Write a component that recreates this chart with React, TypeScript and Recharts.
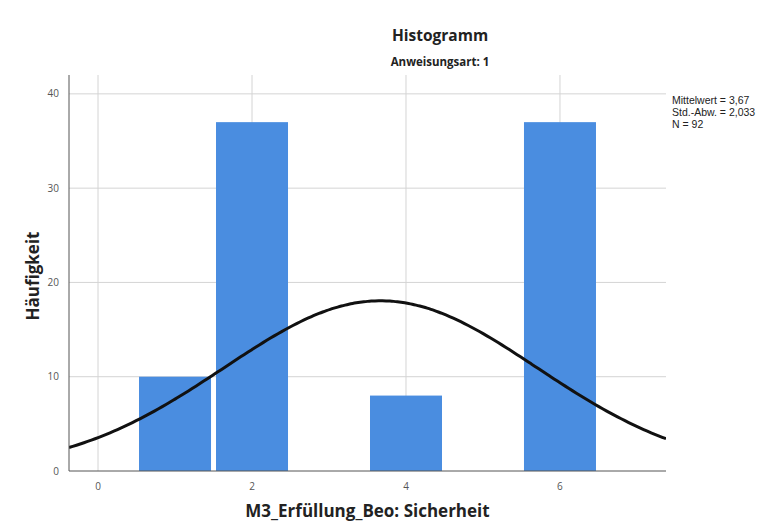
import React from 'react';
import { ComposedChart, Bar, Line, XAxis, YAxis, CartesianGrid } from 'recharts';

// Histogram bins (category value) and their frequencies
const binValues = [1, 2, 4, 6];
const binCounts = [10, 37, 8, 37];

// Summary statistics shown next to the plot
const mean = 3.67;
const stdDev = 2.033;
const n = 92;
const binWidth = 1;

const xTicks = [0, 2, 4, 6];
const yTicks = [0, 10, 20, 30, 40];
const xDomain: [number, number] = [-0.377, 7.377];
const yDomain: [number, number] = [0, 42];

// Fitted normal curve scaled to the histogram's frequencies
const normalFreq = (x: number) =>
  (n * binWidth) / (stdDev * Math.sqrt(2 * Math.PI)) *
  Math.exp(-0.5 * ((x - mean) / stdDev) ** 2);

const buildRows = () => {
  const xs = new Set<number>();
  const steps = 160;
  for (let i = 0; i <= steps; i++) {
    const x = xDomain[0] + ((xDomain[1] - xDomain[0]) * i) / steps;
    xs.add(Math.round(x * 10000) / 10000);
  }
  binValues.forEach((v) => xs.add(v));
  return Array.from(xs)
    .sort((a, b) => a - b)
    .map((x) => {
      const idx = binValues.indexOf(x);
      return {
        x,
        count: idx >= 0 ? binCounts[idx] : undefined,
        curve: normalFreq(x),
      };
    });
};

const rows = buildRows();

const FONT = '"Open Sans", "Liberation Sans", Arial, sans-serif';
const STATS_FONT = '"Liberation Sans", Arial, sans-serif';
const BAR_PX = 72;

// Histogram column centred on its bin value, spanning the bin width minus a small gap
const HistColumn = (props: any) => {
  const { x, width, y, height, fill } = props;
  if (height == null || !(height > 0)) return null;
  const cx = x + width / 2;
  return <rect x={cx - BAR_PX / 2} y={y} width={BAR_PX} height={height} fill={fill} />;
};

export default function App() {
  return (
    <div style={{ position: 'absolute', left: 0, top: 0, width: 778, height: 523, background: '#fff' }}>
      <div
        style={{
          position: 'absolute', left: 0, width: 880, top: 24, textAlign: 'center',
          fontFamily: FONT, fontWeight: 700, fontSize: 15.5, color: '#222',
        }}
      >
        Histogramm
      </div>
      <div
        style={{
          position: 'absolute', left: 0, width: 880, top: 54, textAlign: 'center',
          fontFamily: FONT, fontWeight: 700, fontSize: 11.5, color: '#222',
        }}
      >
        Anweisungsart: 1
      </div>
      <div
        style={{
          position: 'absolute', left: 672, top: 94, fontFamily: STATS_FONT, fontSize: 10.5,
          lineHeight: '12px', color: '#222', whiteSpace: 'nowrap',
        }}
      >
        <div>Mittelwert = 3,67</div>
        <div>Std.-Abw. = 2,033</div>
        <div>N = 92</div>
      </div>
      <div
        style={{
          position: 'absolute', left: 69, width: 597, top: 499, textAlign: 'center',
          fontFamily: FONT, fontWeight: 700, fontSize: 17, color: '#222',
        }}
      >
        M3_Erfüllung_Beo: Sicherheit
      </div>
      <div
        style={{
          position: 'absolute', left: 32, top: 276, transform: 'translate(-50%, -50%) rotate(-90deg)',
          fontFamily: FONT, fontWeight: 700, fontSize: 17, color: '#222', whiteSpace: 'nowrap',
        }}
      >
        Häufigkeit
      </div>
      <ComposedChart
        width={778}
        height={523}
        data={rows}
        margin={{ top: 75, right: 112, bottom: 0, left: 0 }}
        style={{ position: 'absolute', left: 0, top: 0 }}
      >
        <CartesianGrid
          stroke="#d4d4d4"
          strokeWidth={1}
          verticalValues={xTicks}
          horizontalValues={yTicks.filter((t) => t > 0)}
        />
        <XAxis
          dataKey="x"
          type="number"
          domain={xDomain}
          allowDataOverflow
          ticks={xTicks}
          tickLine={false}
          axisLine={{ stroke: '#555', strokeWidth: 1 }}
          tick={{ fontSize: 10, fill: '#555', fontFamily: FONT }}
          tickMargin={6}
          height={52}
        />
        <YAxis
          type="number"
          domain={yDomain}
          allowDataOverflow
          ticks={yTicks}
          tickLine={false}
          axisLine={{ stroke: '#555', strokeWidth: 1 }}
          tick={{ fontSize: 10, fill: '#555', fontFamily: FONT }}
          tickMargin={4}
          width={69}
        />
        <Bar dataKey="count" fill="#4a8de0" shape={HistColumn} isAnimationActive={false} />
        <Line
          dataKey="curve"
          type="monotone"
          stroke="#111"
          strokeWidth={3}
          dot={false}
          activeDot={false}
          isAnimationActive={false}
        />
      </ComposedChart>
    </div>
  );
}
